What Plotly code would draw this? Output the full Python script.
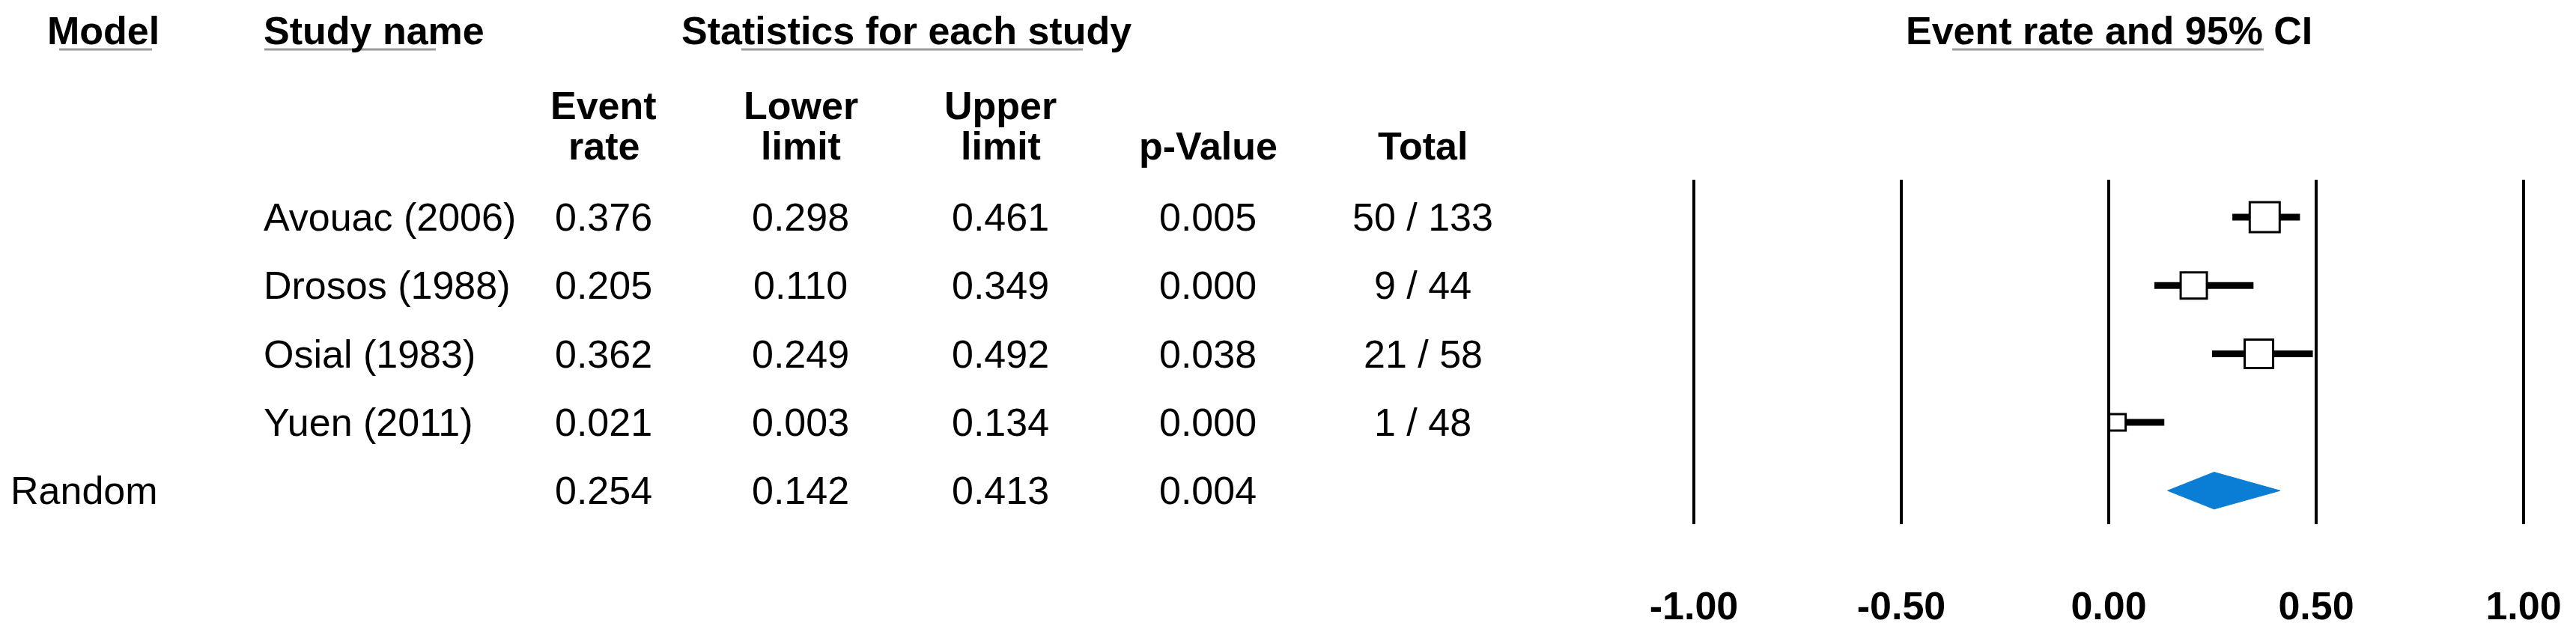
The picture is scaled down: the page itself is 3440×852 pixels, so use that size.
import plotly.graph_objects as go

# ---------------- data ----------------
studies = ["Avouac (2006)", "Drosos (1988)", "Osial (1983)", "Yuen (2011)"]
event_rate = [0.376, 0.205, 0.362, 0.021]
lower_limit = [0.298, 0.110, 0.249, 0.003]
upper_limit = [0.461, 0.349, 0.492, 0.134]
p_values = [0.005, 0.000, 0.038, 0.000]
events = [50, 9, 21, 1]
totals = [133, 44, 58, 48]

pooled_model = "Random"
pooled_rate = 0.254
pooled_lower = 0.142
pooled_upper = 0.413
pooled_p = 0.004

tick_vals = [-1.0, -0.5, 0.0, 0.5, 1.0]
tick_text = ["-1.00", "-0.50", "0.00", "0.50", "1.00"]

col_headers_top = ["Event", "Lower", "Upper", "", ""]
col_headers_bottom = ["rate", "limit", "limit", "p-Value", "Total"]

# ---------------- layout constants (screen pixels) ----------------
W, H = 3440, 852
PAGE_OFFSET = 8                     # default body margin of the html page
FONT = "Liberation Sans, Arial, Helvetica, sans-serif"
FS = 52
ROW0, ROW_H = 290.0, 91.3           # pixel centre of first row, row spacing
PLOT_TOP, PLOT_BOT = 240.0, 700.0   # vertical extent of the forest panel
X_LEFT_PX, X_RIGHT_PX = 2234.3, 3397.7
X_RANGE = [-1.05, 1.05]
square_sizes = [40, 35, 38, 22]
diamond_half = 0.27

def pxx(p):
    return (p - PAGE_OFFSET) / W

def pxy(p):
    return 1 - (p - PAGE_OFFSET) / H

y_top = (PLOT_TOP - ROW0) / ROW_H
y_bot = (PLOT_BOT - ROW0) / ROW_H

rows = list(range(len(studies)))
pooled_row = len(studies)

fig = go.Figure()

# CI lines
ci_x, ci_y = [], []
for i, (lo, hi) in enumerate(zip(lower_limit, upper_limit)):
    ci_x += [lo, hi, None]
    ci_y += [i, i, None]
fig.add_trace(go.Scatter(x=ci_x, y=ci_y, mode="lines",
                         line=dict(color="black", width=9),
                         hoverinfo="skip", showlegend=False))

# point estimates
fig.add_trace(go.Scatter(x=event_rate, y=rows, mode="markers",
                         marker=dict(symbol="square", size=square_sizes,
                                     color="white", opacity=1,
                                     line=dict(color="black", width=3)),
                         showlegend=False))

# pooled diamond
fig.add_trace(go.Scatter(
    x=[pooled_lower, pooled_rate, pooled_upper, pooled_rate, pooled_lower],
    y=[pooled_row, pooled_row - diamond_half, pooled_row,
       pooled_row + diamond_half, pooled_row],
    mode="lines", fill="toself", fillcolor="#0a7dd4",
    line=dict(color="#0a7dd4", width=1), showlegend=False))

annotations = []

def add_text(text, x_px, y, yref="paper", align="left", bold=False):
    annotations.append(dict(
        text=("<b>%s</b>" % text) if bold else text,
        x=pxx(x_px), xref="paper",
        y=y, yref=yref,
        xanchor=align, yanchor="middle", showarrow=False,
        borderpad=0, borderwidth=0,
        font=dict(family=FONT, size=FS, color="black")))

# top headers
HEAD_Y = 41
add_text("Model", 63, pxy(HEAD_Y), bold=True)
add_text("Study name", 352, pxy(HEAD_Y), bold=True)
add_text("Statistics for each study", 910, pxy(HEAD_Y), bold=True)
add_text("Event rate and 95% CI", 2816, pxy(HEAD_Y), align="center", bold=True)

col_x = [806, 1069, 1336, 1613, 1900]
for cx, t1, t2 in zip(col_x, col_headers_top, col_headers_bottom):
    if t1:
        add_text(t1, cx, pxy(141), align="center", bold=True)
    add_text(t2, cx, pxy(195), align="center", bold=True)

# study rows
for i, name in enumerate(studies):
    add_text(name, 352, i, yref="y")
    add_text("%.3f" % event_rate[i], col_x[0], i, yref="y", align="center")
    add_text("%.3f" % lower_limit[i], col_x[1], i, yref="y", align="center")
    add_text("%.3f" % upper_limit[i], col_x[2], i, yref="y", align="center")
    add_text("%.3f" % p_values[i], col_x[3], i, yref="y", align="center")
    add_text("%d / %d" % (events[i], totals[i]), col_x[4], i, yref="y", align="center")

# pooled row
add_text(pooled_model, 14, pooled_row, yref="y")
add_text("%.3f" % pooled_rate, col_x[0], pooled_row, yref="y", align="center")
add_text("%.3f" % pooled_lower, col_x[1], pooled_row, yref="y", align="center")
add_text("%.3f" % pooled_upper, col_x[2], pooled_row, yref="y", align="center")
add_text("%.3f" % pooled_p, col_x[3], pooled_row, yref="y", align="center")

# header underlines
shapes = []
for x0, x1, yy in [(79, 203, 66), (353, 582, 66), (990, 1446, 66), (2607, 3023, 66)]:
    shapes.append(dict(type="line", xref="paper", yref="paper",
                       x0=pxx(x0), x1=pxx(x1), y0=pxy(yy), y1=pxy(yy),
                       line=dict(color="#9a9a9a", width=3)))

fig.update_layout(
    template="none",
    width=W, height=H,
    margin=dict(l=0, r=0, t=0, b=0, pad=0, autoexpand=False),
    paper_bgcolor="white", plot_bgcolor="white",
    annotations=annotations, shapes=shapes,
    showlegend=False,
    xaxis=dict(domain=[pxx(X_LEFT_PX), pxx(X_RIGHT_PX)], range=X_RANGE,
               autorange=False, automargin=False,
               tickvals=tick_vals, ticktext=tick_text,
               showgrid=True, gridcolor="black", gridwidth=4,
               zeroline=False, showline=False, ticks="",
               ticklabelstandoff=74,
               tickfont=dict(family=FONT, size=FS, color="black", weight="bold"),
               fixedrange=True),
    yaxis=dict(domain=[pxy(PLOT_BOT), pxy(PLOT_TOP)], range=[y_bot, y_top],
               autorange=False, automargin=False,
               showgrid=False, zeroline=False, showticklabels=False,
               showline=False, fixedrange=True),
)

fig.write_html("out.html")
